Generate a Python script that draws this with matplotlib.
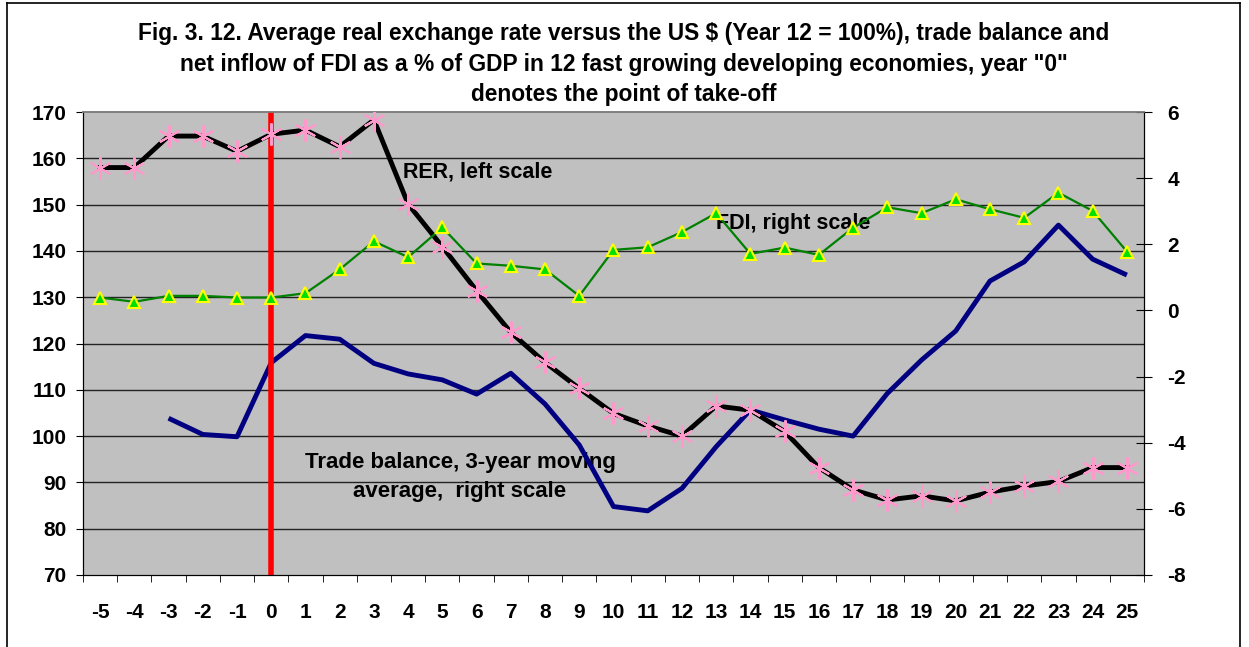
import numpy as np
import matplotlib.pyplot as plt
from matplotlib.lines import Line2D

plt.rcParams['font.family'] = ['Liberation Sans', 'DejaVu Sans']
plt.rcParams['axes.unicode_minus'] = False

years = list(range(-5, 26))
rer = [158, 158, 164.8, 164.8, 161.5, 165.2, 166.1, 162.5, 168.3, 150.1, 140.9, 131.4,
       122.4, 115.9, 110.3, 104.9, 102.2, 100.0, 106.5, 105.6, 101.0, 93.2, 88.4, 86.2,
       87.1, 86.0, 87.9, 89.2, 90.2, 93.2, 93.2]
fdi = [0.39, 0.26, 0.44, 0.44, 0.39, 0.39, 0.52, 1.24, 2.09, 1.61, 2.51, 1.42, 1.35,
       1.24, 0.44, 1.83, 1.91, 2.37, 2.94, 1.71, 1.90, 1.68, 2.50, 3.12, 2.94, 3.36,
       3.06, 2.80, 3.56, 3.01, 1.78]
# trade balance (3-year moving average) starts at year -3
trade = [np.nan, np.nan, -3.26, -3.75, -3.82, -1.58, -0.76, -0.87, -1.60, -1.92, -2.10,
         -2.53, -1.90, -2.83, -4.07, -5.93, -6.06, -5.38, -4.12, -3.01, -3.31, -3.59,
         -3.80, -2.51, -1.50, -0.62, 0.89, 1.47, 2.58, 1.55, 1.07]

title = ('Fig. 3. 12. Average real exchange rate versus the US $ (Year 12 = 100%), trade balance and\n'
         'net inflow of FDI as a % of GDP in 12 fast growing developing economies, year "0"\n'
         'denotes the point of take-off')

x = np.arange(len(years))

fig = plt.figure(figsize=(12.49, 6.47), dpi=100)
ax = fig.add_axes([83 / 1249, 1 - 575 / 647, (1144 - 83) / 1249, (575 - 112) / 647])
ax2 = ax.twinx()

ax.set_facecolor('#C0C0C0')
ax.set_zorder(0)
ax2.set_zorder(1)
ax2.patch.set_visible(False)

ax.set_xlim(-0.5, len(years) - 0.5)
ax.set_ylim(70, 170)
ax2.set_ylim(-8, 6)

for v in range(80, 170, 10):
    ax.axhline(v, color='#222222', lw=1, zorder=1)

# red take-off line
ax2.axvline(years.index(0), color='#FF0000', lw=4, zorder=2)

ax2.plot(x, trade, color='#000080', lw=3.5, zorder=1, solid_capstyle='butt')
ax2.plot(x, fdi, color='#008000', lw=1.6, marker='^', markersize=9,
         markerfacecolor='#00E000', markeredgecolor='#FFFF00', markeredgewidth=1.5, zorder=4)
# RER is on the left scale; map it onto the right axis so it can sit above the other lines
rer_r = [(v - 70) / 100 * 14 - 8 for v in rer]
ax2.plot(x, rer_r, color='black', lw=3.5, zorder=3)
ax2.plot(x, rer_r, ls='none', marker=(6, 2, 0), markersize=16,
         markeredgecolor='#FF99CC', markeredgewidth=1.5, zorder=5)

ax.set_xticks(x)
ax.set_xticklabels([str(y) for y in years])
ax.set_xticks(np.arange(-0.5, len(years), 1), minor=True)
ax.tick_params(axis='x', which='major', length=0, pad=20, labelsize=15)
ax.tick_params(axis='x', which='minor', length=5, direction='out', color='black')
ax.set_yticks(range(70, 171, 10))
ax.tick_params(axis='y', length=5, direction='out', labelsize=15, pad=7)
ax2.set_yticks(range(-8, 7, 2))
ax2.tick_params(axis='y', length=12, direction='inout', labelsize=15, pad=11)
for lab in ax.get_xticklabels() + ax.get_yticklabels() + ax2.get_yticklabels():
    lab.set_fontweight('bold')

for a in (ax, ax2):
    a.spines['top'].set_color('#808080')
    a.spines['left'].set_color('black')
    a.spines['right'].set_color('black')
    a.spines['bottom'].set_color('black')
    a.spines['top'].set_linewidth(1.2)

ax.text(403 / 1249, 1 - 172 / 647, 'RER, left scale', transform=fig.transFigure,
        fontsize=15.5, fontweight='bold', va='center', ha='left', zorder=6)
ax.text(716 / 1249, 1 - 223 / 647, 'FDI, right scale', transform=fig.transFigure,
        fontsize=15.5, fontweight='bold', va='center', ha='left', zorder=6)
ax.text(460 / 1249, 1 - 477 / 647, 'Trade balance, 3-year moving\naverage,  right scale',
        transform=fig.transFigure, fontsize=16, fontweight='bold', va='center',
        ha='center', linespacing=1.5, zorder=6)

fig.text(624 / 1249, 1 - 64 / 647, title, ha='center', va='center', fontsize=16.4,
         fontweight='bold', linespacing=1.42)

# outer chart frame
fig.add_artist(Line2D([7 / 1249, 7 / 1249], [0, 1 - 3 / 647], color='black', lw=1.2,
                      transform=fig.transFigure))
fig.add_artist(Line2D([1240 / 1249, 1240 / 1249], [0, 1 - 3 / 647], color='black', lw=1.2,
                      transform=fig.transFigure))
fig.add_artist(Line2D([7 / 1249, 1240 / 1249], [1 - 3 / 647, 1 - 3 / 647], color='black',
                      lw=1.2, transform=fig.transFigure))

fig.savefig('out.png', dpi=100)
